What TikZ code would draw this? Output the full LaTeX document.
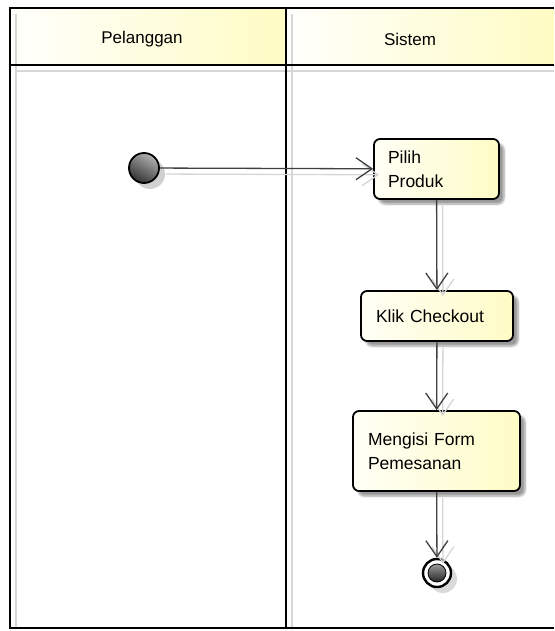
\documentclass[tikz,border=0pt]{standalone}
\usepackage{fontspec}
\setmainfont{Liberation Sans}
\usetikzlibrary{arrows.meta,shadows.blur}

\definecolor{laneW}{RGB}{255,255,252}
\definecolor{laneY}{RGB}{255,252,196}
\definecolor{actW}{RGB}{255,255,246}
\definecolor{actY}{RGB}{255,252,198}
\definecolor{shadegrey}{RGB}{214,214,214}

\begin{document}
\begin{tikzpicture}[x=1pt,y=-1pt,
  frame/.style={line width=2.4pt, draw=black},
  frameshadow/.style={line width=2.2pt, draw=shadegrey},
  lanehead/.style={font=\fontsize{17}{20}\selectfont},
  action/.style={draw=black, line width=1.8pt, rounded corners=6pt,
    left color=actW, right color=actY, align=left,
    font=\fontsize{17.5}{24}\selectfont,
    blur shadow={shadow xshift=5pt, shadow yshift=-5pt, shadow blur steps=6, shadow opacity=40}},
  flow/.style={draw=black!75, line width=1.3pt,
    -{Straight Barb[length=16pt,width=22pt,line width=1.3pt]}},
  flowshadow/.style={flow, draw=shadegrey, transform canvas={xshift=6pt,yshift=-6pt}},
]
\useasboundingbox (0,0) rectangle (554,631);

% swimlane headers
\shade[left color=laneW, right color=laneY] (10,8) rectangle (286,65);
\shade[left color=laneW, right color=laneY] (286,8) rectangle (554,65);
\node[lanehead] (pelanggan) at (142,39) {Pelanggan};
\node[lanehead] (sistem) at (410,39) {Sistem};

% frame shadows
\draw[frameshadow] (16,14) -- (16,628);
\draw[frameshadow] (292,14) -- (292,628);
\draw[frameshadow] (16,71) -- (554,71);

% swimlane frame
\draw[frame] (554,8) -- (10,8) -- (10,628) -- (554,628);
\draw[frame] (10,65) -- (554,65);
\draw[frame] (286,8) -- (286,628);

% initial node
\fill[black!18] (150,174) circle (15);
\node[circle, draw=black, line width=1.8pt, minimum size=30pt, inner sep=0pt,
  top color=black!30, bottom color=black!80, shading angle=-30] (start) at (144,168) {};

% actions
\node[action, text width=97pt, inner xsep=14pt, minimum height=60pt] (pilih) at (436.5,169) {Pilih\\Produk};
\node[action, text width=122pt, inner xsep=15pt, minimum height=50pt] (klik) at (437,316) {Klik Checkout};
\node[action, text width=137pt, inner xsep=15pt, minimum height=80pt] (isi) at (436.5,451) {Mengisi Form\\Pemesanan};

% final node
\fill[black!15] (443,579) circle (14);
\node[circle, draw=black, line width=2.4pt, fill=white, minimum size=28pt, inner sep=0pt] (final) at (437,573) {};
\node[circle, draw=black, line width=0.8pt, minimum size=18pt, inner sep=0pt,
  top color=black!40, bottom color=black!85] (finalcore) at (437,573) {};

% control flows
\draw[flowshadow] (start) -- (pilih);
\draw[flowshadow] (pilih) -- (klik);
\draw[flowshadow] (klik) -- (isi);
\draw[flowshadow] (isi) -- (final);
\draw[flow] (start) -- (pilih);
\draw[flow] (pilih) -- (klik);
\draw[flow] (klik) -- (isi);
\draw[flow] (isi) -- (final);
\end{tikzpicture}
\end{document}
